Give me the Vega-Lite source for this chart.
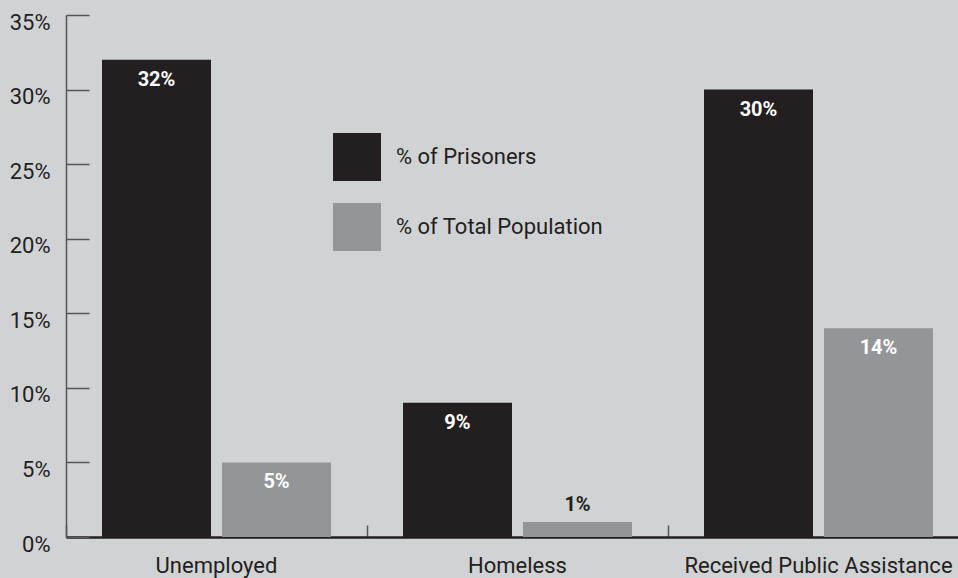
{
  "$schema": "https://vega.github.io/schema/vega-lite/v6.json",
  "width": 892,
  "height": 522,
  "autosize": "none",
  "padding": {"left": 66, "top": 15, "right": 0, "bottom": 41},
  "background": "#d1d2d4",
  "config": {
    "view": {"stroke": null},
    "font": "Roboto"
  },
  "data": {
    "values": [
      {"category": "Unemployed", "series": "% of Prisoners", "value": 32, "label": "32%"},
      {"category": "Unemployed", "series": "% of Total Population", "value": 5, "label": "5%"},
      {"category": "Homeless", "series": "% of Prisoners", "value": 9, "label": "9%"},
      {"category": "Homeless", "series": "% of Total Population", "value": 1, "label": "1%"},
      {"category": "Received Public Assistance", "series": "% of Prisoners", "value": 30, "label": "30%"},
      {"category": "Received Public Assistance", "series": "% of Total Population", "value": 14, "label": "14%"}
    ]
  },
  "encoding": {
    "x": {
      "field": "category",
      "type": "nominal",
      "sort": null,
      "title": null,
      "scale": {"range": [0, 903], "paddingInner": 0, "paddingOuter": 0},
      "axis": {
        "labelAngle": 0,
        "bandPosition": 0,
        "tickSize": -12,
        "tickColor": "#555555",
        "tickWidth": 1.5,
        "domainColor": "#231f20",
        "domainWidth": 2.5,
        "labelFontSize": 22,
        "labelColor": "#231f20",
        "labelPadding": 30,
        "labelLimit": 0,
        "labelFont": "Roboto"
      }
    },
    "xOffset": {
      "field": "series",
      "type": "nominal",
      "sort": null,
      "scale": {"paddingInner": 0.0917, "paddingOuter": 0.3}
    },
    "y": {
      "field": "value",
      "type": "quantitative",
      "title": null,
      "scale": {"domain": [0, 35], "nice": false},
      "axis": {
        "values": [0, 5, 10, 15, 20, 25, 30, 35],
        "labelExpr": "datum.value + '%'",
        "tickSize": -23,
        "tickColor": "#555555",
        "tickWidth": 1.5,
        "domainColor": "#555555",
        "domainWidth": 1.5,
        "grid": false,
        "labelFontSize": 22,
        "labelColor": "#231f20",
        "labelPadding": 39,
        "labelBaseline": "top",
        "labelOffset": -3,
        "labelFont": "Roboto"
      }
    }
  },
  "layer": [
    {
      "mark": {"type": "bar"},
      "encoding": {
        "color": {
          "field": "series",
          "type": "nominal",
          "sort": null,
          "scale": {"range": ["#231f20", "#939598"]},
          "legend": {
            "title": null,
            "orient": "none",
            "legendX": 267,
            "legendY": 118,
            "symbolType": "square",
            "symbolSize": 2304,
            "symbolStrokeWidth": 0,
            "symbolOpacity": 1,
            "rowPadding": 22,
            "labelFontSize": 22,
            "labelColor": "#231f20",
            "labelOffset": 15,
            "labelLimit": 0,
            "labelFont": "Roboto",
            "padding": 0
          }
        }
      }
    },
    {
      "transform": [{"filter": "datum.value >= 3"}],
      "mark": {"type": "text", "baseline": "middle", "dy": 20, "color": "white", "fontWeight": "bold", "fontSize": 20, "font": "Roboto"},
      "encoding": {"text": {"field": "label"}}
    },
    {
      "transform": [{"filter": "datum.value < 3"}],
      "mark": {"type": "text", "baseline": "middle", "dy": -17, "color": "#231f20", "fontWeight": "bold", "fontSize": 20, "font": "Roboto"},
      "encoding": {"text": {"field": "label"}}
    }
  ]
}
